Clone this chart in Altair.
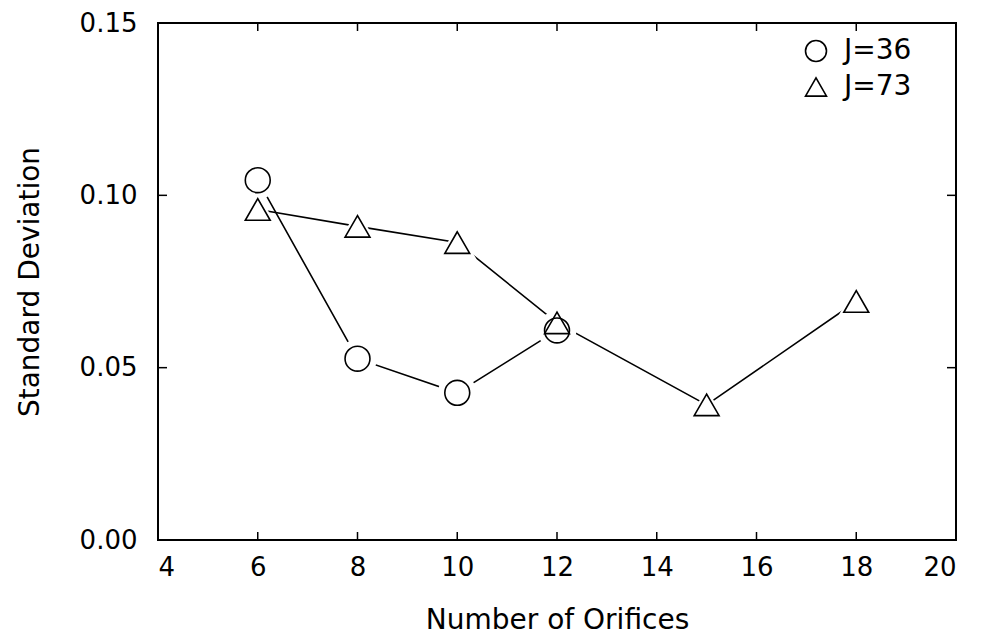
import altair as alt
import pandas as pd

orifices_36 = [6, 8, 10, 12]
std_36 = [0.1044, 0.0526, 0.0427, 0.0608]
orifices_73 = [6, 8, 10, 12, 15, 18]
std_73 = [0.0959, 0.0910, 0.0863, 0.0630, 0.0392, 0.0692]
series_names = ["J=36", "J=73"]
series_shapes = ["circle", "triangle-up"]
x_ticks = [4, 6, 8, 10, 12, 14, 16, 18, 20]
y_ticks = [0.00, 0.05, 0.10, 0.15]

rows = []
for xv, yv in zip(orifices_36, std_36):
    rows.append({"series": series_names[0], "shp": series_shapes[0], "n": xv, "sd": yv})
for xv, yv in zip(orifices_73, std_73):
    rows.append({"series": series_names[1], "shp": series_shapes[1], "n": xv, "sd": yv})
df = pd.DataFrame(rows)
xt = pd.DataFrame({"t": x_ticks})
yt = pd.DataFrame({"t": y_ticks})

W, H = 798, 517
FONT = "DejaVu Sans"

xscale = alt.Scale(domain=[4, 20], nice=False, zero=False)
yscale = alt.Scale(domain=[0, 0.15], nice=False, zero=True)

xaxis = alt.Axis(values=x_ticks, title="Number of Orifices", ticks=False, domain=False,
                 grid=False, labelFontSize=26, titleFontSize=28, labelPadding=14,
                 titlePadding=26, labelColor="black", titleColor="black",
                 labelFont=FONT, titleFont=FONT, titleFontWeight="normal")
yaxis = alt.Axis(values=y_ticks, format=".2f", title="Standard Deviation", ticks=False,
                 domain=False, grid=False, labelFontSize=26, titleFontSize=28,
                 labelPadding=21, titlePadding=35, labelColor="black", titleColor="black",
                 labelFont=FONT, titleFont=FONT, titleFontWeight="normal")

X = alt.X("n:Q", scale=xscale, axis=xaxis)
Y = alt.Y("sd:Q", scale=yscale, axis=yaxis)

legend = alt.Legend(title=None, orient="none", legendX=644, legendY=14,
                    labelFontSize=28, labelFont=FONT, labelColor="black",
                    symbolSize=440, symbolStrokeWidth=1.6, symbolOpacity=1,
                    rowPadding=8, labelOffset=14)

line = alt.Chart(df).mark_line(color="black", strokeWidth=1.6).encode(
    x=X, y=Y, detail="series:N",
)

halo = alt.Chart(df).mark_point(filled=True, color="white", opacity=1, size=1500).encode(
    x=X, y=Y, shape=alt.Shape("shp:N", scale=None),
)

pts = alt.Chart(df).mark_point(filled=False, strokeWidth=1.6, size=620, opacity=1).encode(
    x=X, y=Y,
    shape=alt.Shape("series:N", scale=alt.Scale(domain=series_names, range=series_shapes),
                    legend=legend),
    color=alt.Color("series:N", scale=alt.Scale(domain=series_names, range=["black", "black"]),
                    legend=legend),
)

def xtick(pos0, pos1):
    return alt.Chart(xt).mark_rule(color="black", strokeWidth=1.5).encode(
        x=alt.X("t:Q", scale=xscale, axis=xaxis), y=alt.value(pos0), y2=alt.value(pos1))

def ytick(pos0, pos1):
    return alt.Chart(yt).mark_rule(color="black", strokeWidth=1.5).encode(
        y=alt.Y("t:Q", scale=yscale, axis=yaxis), x=alt.value(pos0), x2=alt.value(pos1))

ticks = [xtick(H, H - 8), xtick(0, 8), ytick(0, 9), ytick(W, W - 9)]

chart = alt.layer(line, *ticks, halo, pts).properties(
    width=W, height=H,
    autosize=alt.AutoSizeParams(type="none"),
    padding={"left": 150, "top": 15, "right": 18, "bottom": 100},
    background="white",
).configure_view(stroke="black", strokeWidth=2)

chart.save("out.html", embed_options={"renderer": "svg", "actions": False})
